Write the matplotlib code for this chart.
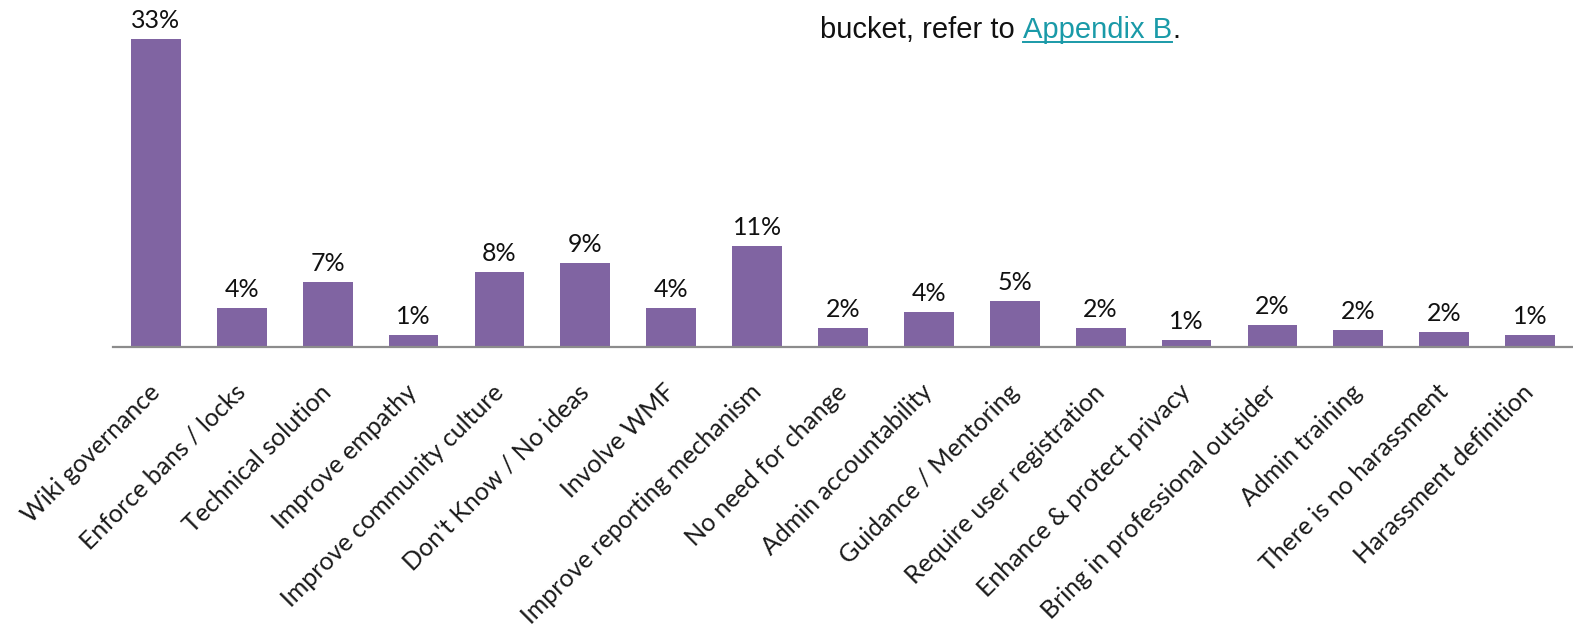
import matplotlib
matplotlib.use("Agg")
import matplotlib.pyplot as plt
from matplotlib.lines import Line2D
from matplotlib.transforms import ScaledTranslation

categories = [
    "Wiki governance", "Enforce bans / locks", "Technical solution",
    "Improve empathy", "Improve community culture", "Don't Know / No ideas",
    "Involve WMF", "Improve reporting mechanism", "No need for change",
    "Admin accountability", "Guidance / Mentoring", "Require user registration",
    "Enhance & protect privacy", "Bring in professional outsider",
    "Admin training", "There is no harassment", "Harassment definition",
]
shares = [33.0, 4.2, 7.0, 1.3, 8.0, 9.0, 4.2, 10.8, 2.0, 3.8, 4.9, 2.0,
          0.8, 2.4, 1.8, 1.6, 1.3]

W, H = 1573, 637
fig = plt.figure(figsize=(W / 100, H / 100), dpi=100)

# axes placed in pixel terms: baseline at y=347, left edge at x=113
left, right, base, top = 113, 1573, 347, 0
ax = fig.add_axes([left / W, (H - base) / H, (right - left) / W, (base - top) / H])
px_per_unit = 308 / 33.0
ax.set_ylim(0, base / px_per_unit)
ax.set_xlim(-0.5, len(categories) - 0.5)

bar_color = "#8064A2"
x = range(len(categories))
ax.bar(x, shares, width=0.58, color=bar_color, zorder=2)

label_font = "Lato"
for xi, v in zip(x, shares):
    ax.annotate(f"{v:.0f}%", (xi, v), xytext=(0, 5), textcoords="offset points",
                ha="center", va="bottom", fontsize=18, family=label_font,
                color="#111111")

for side in ("left", "right", "top"):
    ax.spines[side].set_visible(False)
ax.spines["bottom"].set_color("#8c8c8c")
ax.spines["bottom"].set_linewidth(1.6)
ax.set_yticks([])
ax.set_xticks(list(x))
ax.set_xticklabels(categories, rotation=45, ha="right", va="top",
                   rotation_mode="anchor", fontsize=18, family=label_font,
                   color="#1a1a1a")
ax.tick_params(axis="x", length=0, pad=24)
shift = ScaledTranslation(-8 / 100, 0, fig.dpi_scale_trans)
for lab in ax.get_xticklabels():
    lab.set_transform(lab.get_transform() + shift)

# note text with link-styled reference
fs = 21
y_base = 1 - 38 / H
t1 = fig.text(820 / W, y_base, "bucket, refer to ", fontsize=fs,
              family="Liberation Sans", va="baseline", ha="left", color="#111111")
fig.canvas.draw()
r = fig.canvas.get_renderer()
bb1 = t1.get_window_extent(r)
t2 = fig.text(bb1.x1 / W, y_base, "Appendix B", fontsize=fs,
              family="Liberation Sans", va="baseline", ha="left", color="#1a9aa8")
bb2 = t2.get_window_extent(r)
fig.text(bb2.x1 / W, y_base, ".", fontsize=fs, family="Liberation Sans",
         va="baseline", ha="left", color="#111111")
uy = (H - 41.5) / H
fig.add_artist(Line2D([bb2.x0 / W, bb2.x1 / W], [uy, uy], transform=fig.transFigure,
                      color="#1a9aa8", linewidth=1.4))

fig.savefig("out.png", dpi=100)
